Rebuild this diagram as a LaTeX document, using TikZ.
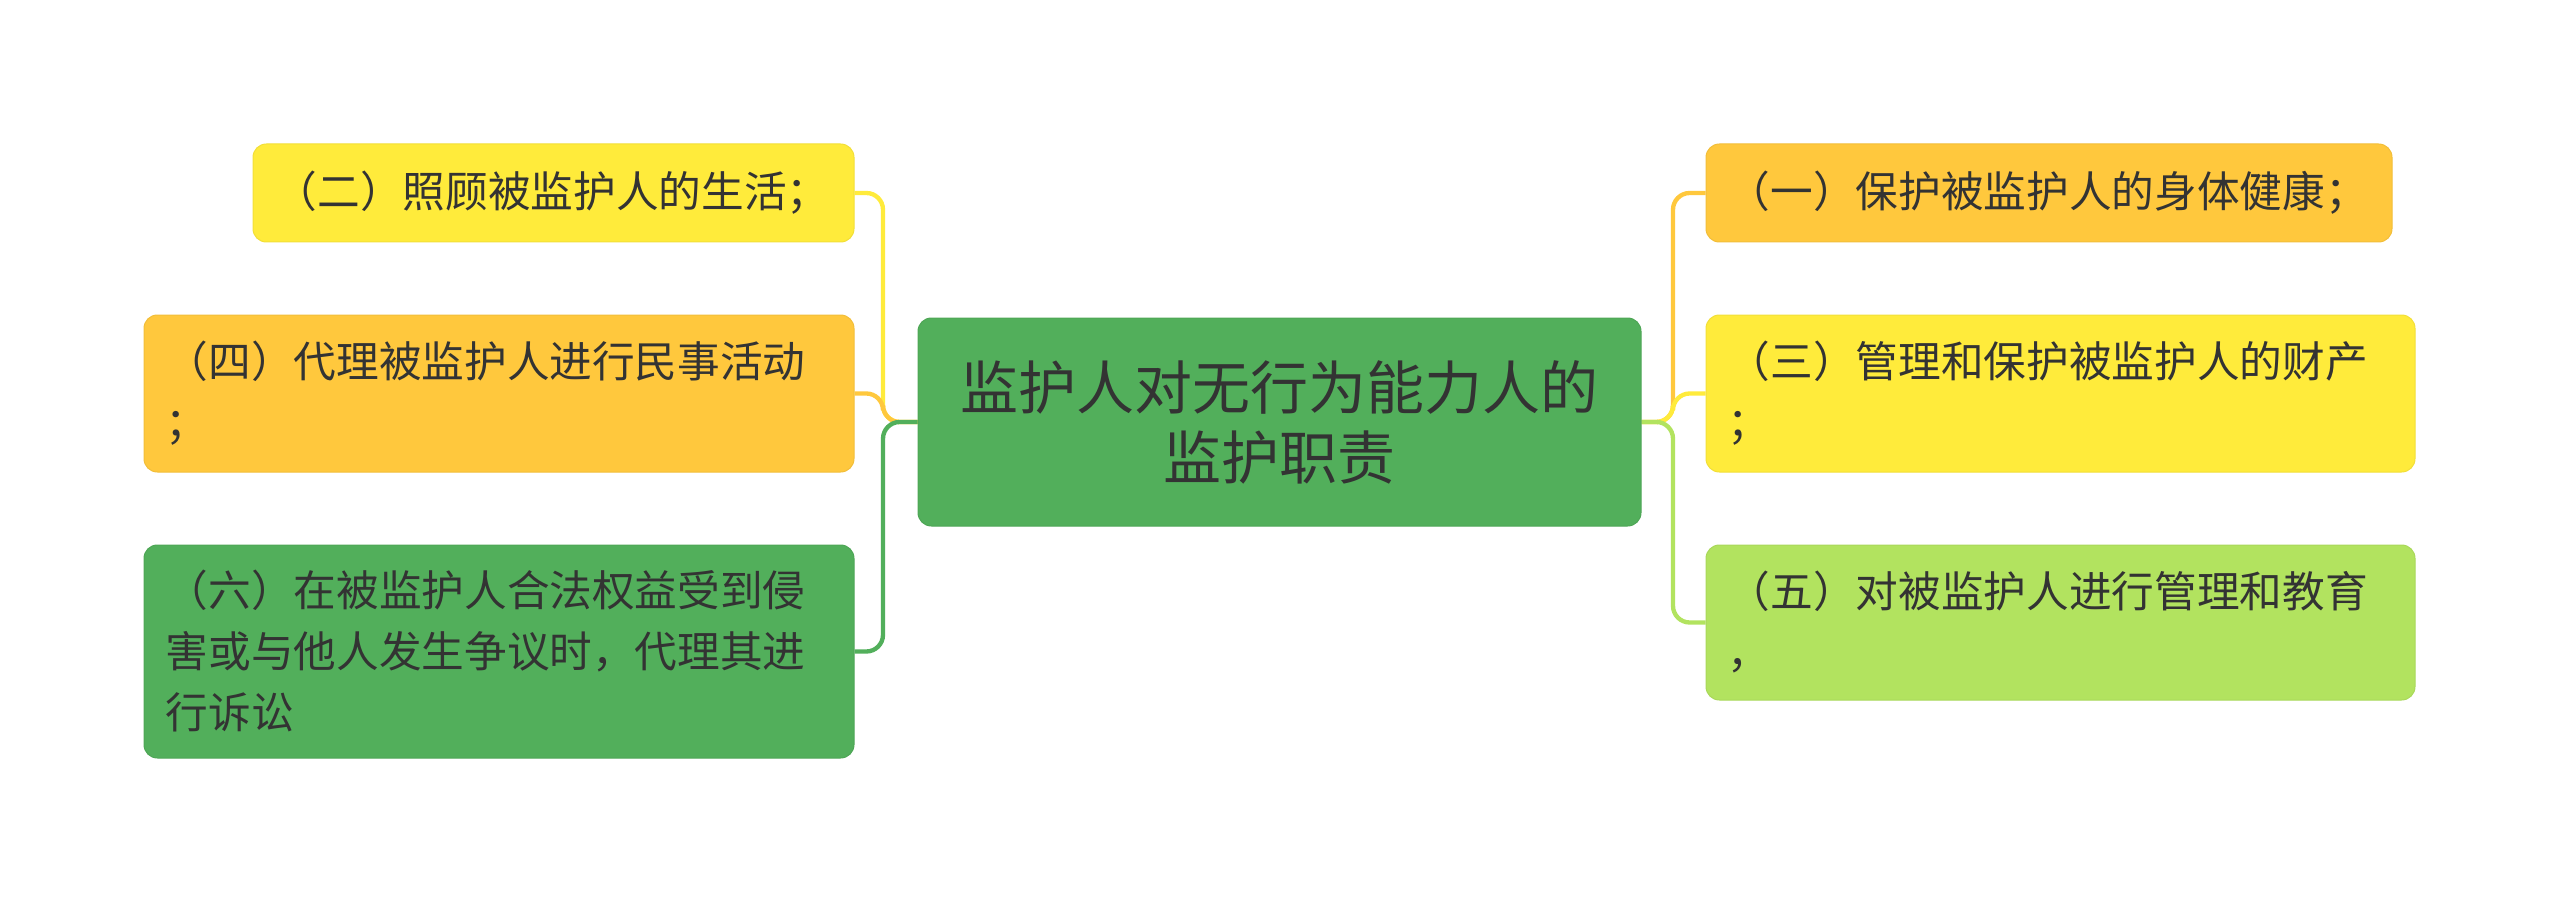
\documentclass[tikz,border=0pt]{standalone}
\usepackage{fontspec}
\usetikzlibrary{backgrounds}
\setmainfont{Noto Sans CJK SC}
\definecolor{cYel}{HTML}{FFEB3B}
\definecolor{cOra}{HTML}{FFC83D}
\definecolor{cGrn}{HTML}{52AF5B}
\definecolor{cLgr}{HTML}{B2E35F}
\definecolor{cTxt}{HTML}{333333}
\begin{document}
\begin{tikzpicture}[x=0.3pt,y=-0.3pt,
  leaf/.style={rounded corners=4pt, inner ysep=0pt, inner xsep=6.5pt, align=left,
    text=cTxt, line width=0.3pt, font=\fontsize{12.8pt}{18.3pt}\selectfont},
  root/.style={rounded corners=4pt, inner sep=0pt, align=center, fill=cGrn,
    draw=cGrn!95!black, line width=0.3pt,
    text=cTxt, font=\fontsize{17.4pt}{21pt}\selectfont},
  conn/.style={line width=1.3pt, rounded corners=5pt}]
\useasboundingbox (0,0) rectangle (2560,903);
% root
\node[root, minimum width=216.9pt, minimum height=62.4pt] (C) at (1279.5,422)
  {监护人对无行为能力人的\\监护职责};
% left
\node[leaf, fill=cYel, draw=cYel!95!black, text width=167.3pt, minimum height=29.4pt] (N2) at (553.5,193)
  {（二）照顾被监护人的生活；};
\node[leaf, fill=cOra, draw=cOra!95!black, text width=200pt, minimum height=47.1pt] (N4) at (499,393.5)
  {（四）代理被监护人进行民事活动\\；};
\node[leaf, fill=cGrn, draw=cGrn!95!black, text width=200pt, minimum height=63.9pt] (N6) at (499,651.5)
  {（六）在被监护人合法权益受到侵\\害或与他人发生争议时，代理其进\\行诉讼};
% right
\node[leaf, fill=cOra, draw=cOra!95!black, text width=192.8pt, minimum height=29.4pt] (N1) at (2049,193)
  {（一）保护被监护人的身体健康；};
\node[leaf, fill=cYel, draw=cYel!95!black, text width=199.7pt, minimum height=47.1pt] (N3) at (2060.5,393.5)
  {（三）管理和保护被监护人的财产\\；};
\node[leaf, fill=cLgr, draw=cLgr!95!black, text width=199.7pt, minimum height=46.5pt] (N5) at (2060.5,622.5)
  {（五）对被监护人进行管理和教育\\，};
% trunks
\coordinate (Lt) at (883,422);
\coordinate (Rt) at (1673,422);
\begin{scope}[on background layer]
\draw[conn, cYel] (C.west) -- (Lt) -- (Lt |- N2.east) -- (N2.east);
\draw[conn, cOra] (C.west) -- (Lt) -- (Lt |- N4.east) -- (N4.east);
\draw[conn, cGrn] (C.west) -- (Lt) -- (Lt |- N6.east) -- (N6.east);
\draw[conn, cOra] (C.east) -- (Rt) -- (Rt |- N1.west) -- (N1.west);
\draw[conn, cYel] (C.east) -- (Rt) -- (Rt |- N3.west) -- (N3.west);
\draw[conn, cLgr] (C.east) -- (Rt) -- (Rt |- N5.west) -- (N5.west);
\end{scope}
\end{tikzpicture}
\end{document}
